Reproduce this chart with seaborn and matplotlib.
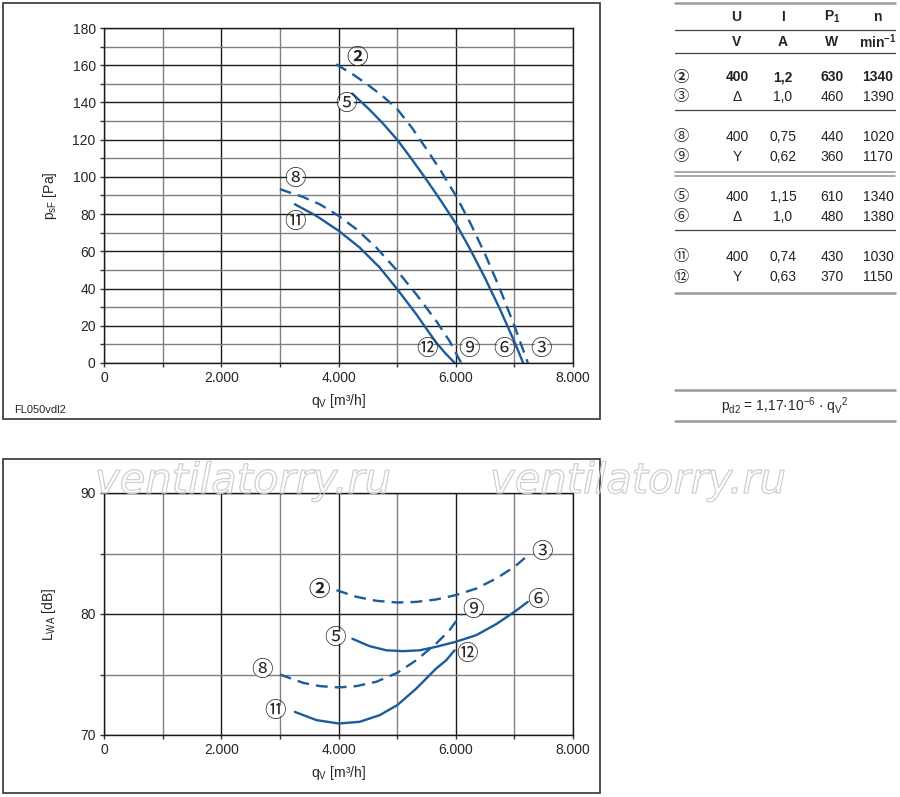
import matplotlib
matplotlib.use("Agg")
import matplotlib.pyplot as plt
import matplotlib.patheffects as pe
from matplotlib.lines import Line2D
from matplotlib.patches import Rectangle
import seaborn as sns
import pandas as pd

# ==============================
# data
# ==============================
# pressure curves, q_V [m3/h] -> p_sF [Pa]
q2_p = [3960, 4250, 4500, 4750, 5000, 5250, 5500, 5750, 6000, 6250, 6500, 6750, 7000, 7230]
p2 = [160.5, 155, 149.5, 143.5, 136.5, 126.5, 115, 103, 90, 75.1, 58.5, 40.1, 20, 0]
q5_p = [4233, 4500, 4750, 5000, 5250, 5500, 5750, 6000, 6250, 6500, 6750, 7000, 7150]
p5 = [144.8, 137, 129, 120, 109.5, 98.5, 87, 75, 60.9, 45.6, 29.2, 11.5, 0]
q8_p = [3000, 3397, 3681, 4005, 4305, 4646, 5003, 5327, 5667, 5894, 6093]
p8 = [93.4, 89.2, 85.3, 79.0, 71.9, 62.0, 49.5, 36.9, 22.6, 11.8, 0]
q11_p = [3255, 3624, 4005, 4362, 4703, 5003, 5327, 5667, 5838, 5985]
p11 = [85.3, 79.0, 71.0, 62.0, 51.3, 39.6, 26.2, 10.9, 4.7, 0]

# sound power curves, q_V [m3/h] -> L_WA [dB]
q2_l = [3965, 4305, 4646, 5003, 5327, 5667, 5997, 6349, 6689, 7001, 7257]
l2 = [81.97, 81.42, 81.09, 80.95, 81.0, 81.2, 81.56, 82.1, 82.93, 83.9, 84.95]
q5_l = [4237, 4532, 4816, 5100, 5384, 5667, 5997, 6349, 6689, 7001, 7228]
l5 = [77.95, 77.34, 77.0, 76.93, 77.0, 77.29, 77.7, 78.25, 79.16, 80.18, 81.0]
q8_l = [3000, 3397, 3681, 4005, 4305, 4646, 5003, 5327, 5667, 5894, 6093]
l8 = [75.0, 74.31, 74.04, 73.93, 74.04, 74.4, 75.14, 76.18, 77.56, 78.66, 79.99]
q11_l = [3255, 3624, 4005, 4362, 4703, 5003, 5327, 5667, 5838, 5980]
l11 = [71.91, 71.23, 70.95, 71.09, 71.64, 72.47, 73.84, 75.5, 76.18, 77.0]

x_ticks = [0, 2000, 4000, 6000, 8000]
x_ticklabels = ["0", "2.000", "4.000", "6.000", "8.000"]
p_ticks = list(range(0, 181, 20))
l_ticks = [70, 80, 90]

# table
tab_ids = ["②", "③", "⑧", "⑨", "⑤", "⑥", "⑪", "⑫"]
tab_U = ["400", "Δ", "400", "Y", "400", "Δ", "400", "Y"]
tab_I = ["1,2", "1,0", "0,75", "0,62", "1,15", "1,0", "0,74", "0,63"]
tab_P = ["630", "460", "440", "360", "610", "480", "430", "370"]
tab_n = ["1340", "1390", "1020", "1170", "1340", "1380", "1030", "1150"]

# ==============================
# style
# ==============================
BLUE = "#1b5c99"
DASH = (0, (5, 3))
CIRC_FONT = ["Noto Sans CJK JP", "DejaVu Sans"]

sns.set_style("white")
plt.rcParams["font.family"] = ["Liberation Sans", "DejaVu Sans"]
plt.rcParams["mathtext.fontset"] = "custom"
plt.rcParams["mathtext.rm"] = "Liberation Sans"
plt.rcParams["mathtext.it"] = "Liberation Sans:italic"
plt.rcParams["mathtext.bf"] = "Liberation Sans:bold"

W, H = 900, 797


def fx(x):
    return x / W


def fy(y):
    return 1 - y / H


fig = plt.figure(figsize=(9, 7.97), dpi=100)
fig.patch.set_facecolor("white")

# outer frames
for (x0, y0, x1, y1) in [(3, 3, 600, 419), (3, 459, 600, 793)]:
    fig.patches.append(Rectangle((fx(x0), fy(y1)), fx(x1 - x0), (y1 - y0) / H,
                                 transform=fig.transFigure, fill=False,
                                 edgecolor="#333333", linewidth=1.2))

ax1 = fig.add_axes([fx(104), fy(363), fx(469), 335 / H])
ax2 = fig.add_axes([fx(104), fy(735), fx(469), 242 / H])


def style_axis(ax, yticks, yminor, ylim):
    ax.set_xlim(0, 8000)
    ax.set_ylim(*ylim)
    ax.set_xticks(x_ticks)
    ax.set_xticklabels(x_ticklabels)
    ax.set_xticks(range(1000, 8000, 2000), minor=True)
    ax.set_yticks(yticks)
    ax.set_yticks(yminor, minor=True)
    ax.grid(which="major", color="#1a1a1a", linewidth=1)
    ax.grid(which="minor", color="#808080", linewidth=1)
    ax.set_axisbelow(True)
    ax.tick_params(which="both", direction="out", length=3, width=1,
                   color="#333333", labelsize=10, pad=3, left=True, bottom=True)
    for s in ax.spines.values():
        s.set_color("#1a1a1a")
        s.set_linewidth(1)


def curve(ax, q, v, dashed):
    df = pd.DataFrame({"q": q, "v": v})
    sns.lineplot(data=df, x="q", y="v", ax=ax, color=BLUE, linewidth=1.7,
                 estimator=None, sort=False, linestyle=DASH if dashed else "-")


def tag(ax, s, x, y, bold=False):
    ax.text(x, y, s, family=CIRC_FONT, fontsize=15.5, ha="center", va="center",
            fontweight="bold" if bold else "normal", zorder=5,
            bbox=dict(boxstyle="circle,pad=-0.15", fc="white", ec="none"))


# ---- pressure chart
curve(ax1, q2_p, p2, True)
curve(ax1, q5_p, p5, False)
curve(ax1, q8_p, p8, True)
curve(ax1, q11_p, p11, False)
style_axis(ax1, p_ticks, range(10, 180, 20), (0, 180))
ax1.set_xlabel(r"q$_\mathrm{V}$ [m³/h]", fontsize=10, labelpad=5)
ax1.set_ylabel(r"p$_\mathrm{sF}$ [Pa]", fontsize=10, labelpad=10)
tag(ax1, "②", 4310, 164, bold=True)
tag(ax1, "⑤", 4134, 139)
tag(ax1, "⑧", 3255, 99)
tag(ax1, "⑪", 3255, 76)
for s, x in [("⑫", 5513), ("⑨", 6222), ("⑥", 6817), ("③", 7453)]:
    tag(ax1, s, x, 7.3)

# ---- sound chart
curve(ax2, q2_l, l2, True)
curve(ax2, q5_l, l5, False)
curve(ax2, q8_l, l8, True)
curve(ax2, q11_l, l11, False)
style_axis(ax2, l_ticks, [75, 85], (70, 90))
ax2.set_xlabel(r"q$_\mathrm{V}$ [m³/h]", fontsize=10, labelpad=5)
ax2.set_ylabel(r"L$_\mathrm{WA}$ [dB]", fontsize=10, labelpad=16)
tag(ax2, "③", 7464, 85.15)
tag(ax2, "②", 3669, 82.0, bold=True)
tag(ax2, "⑨", 6290, 80.3)
tag(ax2, "⑥", 7396, 81.15)
tag(ax2, "⑤", 3936, 78.05)
tag(ax2, "⑫", 6188, 76.7)
tag(ax2, "⑧", 2688, 75.35)
tag(ax2, "⑪", 2915, 72.0)

fig.text(fx(14), fy(410), "FL050vdl2", fontsize=8, va="center", ha="left",
         family=["Liberation Sans Narrow", "Liberation Sans"])

# ---- table
def hline(y, color="#555555", lw=1.0, x0=675, x1=895):
    fig.add_artist(Line2D([fx(x0), fx(x1)], [fy(y), fy(y)], transform=fig.transFigure,
                          color=color, linewidth=lw))


hline(3, "#999999", 1.8)
hline(30, "#444444", 0.9)
hline(53, "#444444", 0.9)
hline(110, "#444444", 0.9)
hline(172, "#999999", 1.2)
hline(175.5, "#999999", 1.2)
hline(230, "#444444", 0.9)
hline(293, "#999999", 1.8)
hline(390, "#999999", 1.8)
hline(421, "#999999", 1.8)

cols = [737, 783, 832, 878]
head = [r"$\mathbf{U}$", r"$\mathbf{I}$", r"$\mathbf{P_1}$", r"$\mathbf{n}$"]
units = [r"$\mathbf{V}$", r"$\mathbf{A}$", r"$\mathbf{W}$", r"$\mathbf{min^{-1}}$"]
for x, h, u in zip(cols, head, units):
    fig.text(fx(x), fy(17), h, fontsize=10, ha="center", va="center")
    fig.text(fx(x), fy(42), u, fontsize=10, ha="center", va="center")

row_y = [77, 97, 137, 157, 197, 217, 257, 277]
for i, y in enumerate(row_y):
    w = "bold" if i == 0 else "normal"
    fig.text(fx(681), fy(y), tab_ids[i], family=CIRC_FONT, fontsize=11,
             ha="center", va="center", fontweight=w)
    for x, val in zip(cols, [tab_U[i], tab_I[i], tab_P[i], tab_n[i]]):
        fig.text(fx(x), fy(y), val, fontsize=10, ha="center", va="center",
                 fontweight=w, color="#222222")

fig.text(fx(785), fy(406), r"p$_\mathrm{d2}$ = 1,17·10$^{-6}$ · q$_\mathrm{V}$$^2$",
         fontsize=10, ha="center", va="center")

# ---- watermark (outline text)
for x in [95, 490]:
    fig.text(fx(x), fy(493), "ventilatorry.ru", fontsize=30, style="italic",
             family="DejaVu Sans", ha="left", va="baseline", color=(1, 1, 1, 0),
             path_effects=[pe.Stroke(linewidth=0.9, foreground="#cfcfcf")], zorder=10)

fig.savefig("out.png", dpi=100, facecolor="white")
